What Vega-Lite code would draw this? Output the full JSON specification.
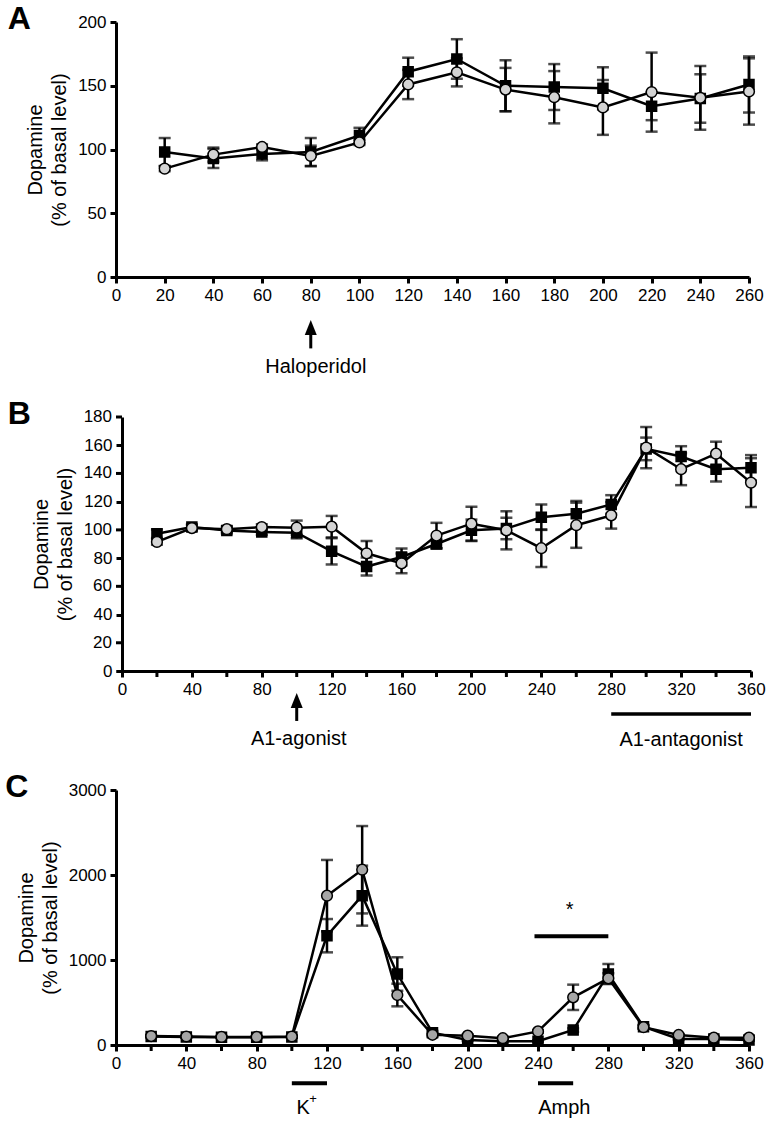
{
  "$schema": "https://vega.github.io/schema/vega-lite/v6.json",
  "background": "white",
  "padding": {"left": 5, "top": 3, "right": 5, "bottom": 5},
  "spacing": 20,
  "resolve": {"scale": {"x": "independent", "y": "independent", "fill": "independent", "shape": "independent", "size": "independent"}},
  "datasets": {
    "panelA": [
      {"time": 20, "group": "Group 1", "mean": 98, "sem": 11},
      {"time": 40, "group": "Group 1", "mean": 93, "sem": 7.5},
      {"time": 60, "group": "Group 1", "mean": 96.5, "sem": 5},
      {"time": 80, "group": "Group 1", "mean": 98, "sem": 11},
      {"time": 100, "group": "Group 1", "mean": 111, "sem": 6},
      {"time": 120, "group": "Group 1", "mean": 161, "sem": 11},
      {"time": 140, "group": "Group 1", "mean": 171, "sem": 15.5},
      {"time": 160, "group": "Group 1", "mean": 150, "sem": 20},
      {"time": 180, "group": "Group 1", "mean": 149, "sem": 18},
      {"time": 200, "group": "Group 1", "mean": 148, "sem": 16.5},
      {"time": 220, "group": "Group 1", "mean": 134, "sem": 11},
      {"time": 240, "group": "Group 1", "mean": 140, "sem": 19},
      {"time": 260, "group": "Group 1", "mean": 151, "sem": 22},
      {"time": 20, "group": "Group 2", "mean": 85, "sem": 2},
      {"time": 40, "group": "Group 2", "mean": 96, "sem": 5.5},
      {"time": 60, "group": "Group 2", "mean": 102, "sem": 2},
      {"time": 80, "group": "Group 2", "mean": 95, "sem": 8},
      {"time": 100, "group": "Group 2", "mean": 105.5, "sem": 2},
      {"time": 120, "group": "Group 2", "mean": 151, "sem": 11.5},
      {"time": 140, "group": "Group 2", "mean": 160.5, "sem": 11},
      {"time": 160, "group": "Group 2", "mean": 147, "sem": 17},
      {"time": 180, "group": "Group 2", "mean": 141, "sem": 20.5},
      {"time": 200, "group": "Group 2", "mean": 133, "sem": 21.5},
      {"time": 220, "group": "Group 2", "mean": 145, "sem": 31},
      {"time": 240, "group": "Group 2", "mean": 140.5, "sem": 25},
      {"time": 260, "group": "Group 2", "mean": 145.5, "sem": 26}
    ],
    "panelB": [
      {"time": 20, "group": "Group 1", "mean": 97.3, "sem": 3},
      {"time": 40, "group": "Group 1", "mean": 102, "sem": 2},
      {"time": 60, "group": "Group 1", "mean": 99.5, "sem": 2},
      {"time": 80, "group": "Group 1", "mean": 98.5, "sem": 2},
      {"time": 100, "group": "Group 1", "mean": 98, "sem": 4},
      {"time": 120, "group": "Group 1", "mean": 84.8, "sem": 9.3},
      {"time": 140, "group": "Group 1", "mean": 74, "sem": 6.4},
      {"time": 160, "group": "Group 1", "mean": 80.8, "sem": 6},
      {"time": 180, "group": "Group 1", "mean": 90, "sem": 3},
      {"time": 200, "group": "Group 1", "mean": 99.7, "sem": 7.6},
      {"time": 220, "group": "Group 1", "mean": 101, "sem": 7.6},
      {"time": 240, "group": "Group 1", "mean": 109, "sem": 9},
      {"time": 260, "group": "Group 1", "mean": 111.5, "sem": 9},
      {"time": 280, "group": "Group 1", "mean": 118, "sem": 6.6},
      {"time": 300, "group": "Group 1", "mean": 157.4, "sem": 8},
      {"time": 320, "group": "Group 1", "mean": 152, "sem": 7.3},
      {"time": 340, "group": "Group 1", "mean": 143, "sem": 8.7},
      {"time": 360, "group": "Group 1", "mean": 144, "sem": 9},
      {"time": 20, "group": "Group 2", "mean": 91.5, "sem": 2},
      {"time": 40, "group": "Group 2", "mean": 101.3, "sem": 2},
      {"time": 60, "group": "Group 2", "mean": 100.5, "sem": 2},
      {"time": 80, "group": "Group 2", "mean": 102, "sem": 2},
      {"time": 100, "group": "Group 2", "mean": 101.6, "sem": 5},
      {"time": 120, "group": "Group 2", "mean": 102.3, "sem": 7.6},
      {"time": 140, "group": "Group 2", "mean": 83.4, "sem": 8.7},
      {"time": 160, "group": "Group 2", "mean": 76.3, "sem": 7},
      {"time": 180, "group": "Group 2", "mean": 96, "sem": 9},
      {"time": 200, "group": "Group 2", "mean": 104.4, "sem": 12},
      {"time": 220, "group": "Group 2", "mean": 99.7, "sem": 13.5},
      {"time": 240, "group": "Group 2", "mean": 87, "sem": 13.3},
      {"time": 260, "group": "Group 2", "mean": 103.3, "sem": 16},
      {"time": 280, "group": "Group 2", "mean": 110.3, "sem": 9.4},
      {"time": 300, "group": "Group 2", "mean": 158.3, "sem": 14.6},
      {"time": 320, "group": "Group 2", "mean": 143, "sem": 11.3},
      {"time": 340, "group": "Group 2", "mean": 154, "sem": 8.5},
      {"time": 360, "group": "Group 2", "mean": 133.5, "sem": 17.3}
    ],
    "panelC": [
      {"time": 20, "group": "Group 1", "mean": 100, "sem": 10},
      {"time": 40, "group": "Group 1", "mean": 95, "sem": 10},
      {"time": 60, "group": "Group 1", "mean": 90, "sem": 10},
      {"time": 80, "group": "Group 1", "mean": 90, "sem": 10},
      {"time": 100, "group": "Group 1", "mean": 95, "sem": 10},
      {"time": 120, "group": "Group 1", "mean": 1286, "sem": 196},
      {"time": 140, "group": "Group 1", "mean": 1757, "sem": 353},
      {"time": 160, "group": "Group 1", "mean": 835, "sem": 197},
      {"time": 180, "group": "Group 1", "mean": 145, "sem": 20},
      {"time": 200, "group": "Group 1", "mean": 60, "sem": 10},
      {"time": 220, "group": "Group 1", "mean": 45, "sem": 10},
      {"time": 240, "group": "Group 1", "mean": 45, "sem": 10},
      {"time": 260, "group": "Group 1", "mean": 176, "sem": 20},
      {"time": 280, "group": "Group 1", "mean": 835, "sem": 118},
      {"time": 300, "group": "Group 1", "mean": 216, "sem": 20},
      {"time": 320, "group": "Group 1", "mean": 70, "sem": 10},
      {"time": 340, "group": "Group 1", "mean": 70, "sem": 10},
      {"time": 360, "group": "Group 1", "mean": 60, "sem": 10},
      {"time": 20, "group": "Group 2", "mean": 105, "sem": 10},
      {"time": 40, "group": "Group 2", "mean": 100, "sem": 10},
      {"time": 60, "group": "Group 2", "mean": 95, "sem": 10},
      {"time": 80, "group": "Group 2", "mean": 95, "sem": 10},
      {"time": 100, "group": "Group 2", "mean": 100, "sem": 10},
      {"time": 120, "group": "Group 2", "mean": 1757, "sem": 420},
      {"time": 140, "group": "Group 2", "mean": 2062, "sem": 514},
      {"time": 160, "group": "Group 2", "mean": 588, "sem": 133},
      {"time": 180, "group": "Group 2", "mean": 120, "sem": 20},
      {"time": 200, "group": "Group 2", "mean": 110, "sem": 15},
      {"time": 220, "group": "Group 2", "mean": 80, "sem": 10},
      {"time": 240, "group": "Group 2", "mean": 160, "sem": 15},
      {"time": 260, "group": "Group 2", "mean": 561, "sem": 149},
      {"time": 280, "group": "Group 2", "mean": 784, "sem": 60},
      {"time": 300, "group": "Group 2", "mean": 210, "sem": 20},
      {"time": 320, "group": "Group 2", "mean": 118, "sem": 10},
      {"time": 340, "group": "Group 2", "mean": 86, "sem": 10},
      {"time": 360, "group": "Group 2", "mean": 86, "sem": 10}
    ],
    "minorTicks": [
      {"time": 20}, {"time": 60}, {"time": 100}, {"time": 140}, {"time": 180},
      {"time": 220}, {"time": 260}, {"time": 300}, {"time": 340}
    ],
    "yLabelsB": [{"value": 20}, {"value": 60}, {"value": 100}, {"value": 140}, {"value": 180}],
    "noteA": [{"time": 80, "label": "Haloperidol"}],
    "noteB": [{"time": 100, "label": "A1-agonist"}],
    "barB": [{"start": 280, "end": 360, "at": 320, "label": "A1-antagonist"}],
    "barC": [
      {"start": 100, "end": 120, "at": 106.4, "label": "K", "sup": "+"},
      {"start": 240, "end": 260, "at": 255, "label": "Amph", "sup": ""}
    ],
    "sigC": [{"start": 238, "end": 280, "at": 258, "label": "*"}]
  },
  "vconcat": [
    {
      "width": 633,
      "height": 255,
      "title": {"text": "A", "anchor": "start", "frame": "bounds", "fontSize": 32, "fontWeight": "bold", "font": "Liberation Sans", "color": "black", "baseline": "alphabetic", "offset": -48, "dx": -18},
      "layer": [
        {
          "data": {"name": "panelA"},
          "mark": {"type": "line", "color": "black", "strokeWidth": 2.5},
          "encoding": {
            "x": {"field": "time", "type": "quantitative", "title": null, "scale": {"domain": [0, 260], "nice": false}, "axis": {"values": [0, 20, 40, 60, 80, 100, 120, 140, 160, 180, 200, 220, 240, 260], "labelOverlap": false, "labelFlush": false}},
            "y": {"field": "mean", "type": "quantitative", "title": ["Dopamine", "(% of basal level)"], "scale": {"domain": [0, 200], "nice": false}, "axis": {"values": [0, 50, 100, 150, 200], "labelOverlap": false}},
            "detail": {"field": "group"}
          }
        },
        {
          "data": {"name": "panelA"},
          "mark": {"type": "errorbar", "ticks": {"size": 12, "thickness": 2.5, "color": "black"}, "rule": {"strokeWidth": 2.5, "color": "black"}},
          "encoding": {
            "x": {"field": "time", "type": "quantitative", "title": null},
            "y": {"field": "mean", "type": "quantitative", "title": ["Dopamine", "(% of basal level)"]},
            "yError": {"field": "sem"},
            "detail": {"field": "group"}
          }
        },
        {
          "data": {"name": "panelA"},
          "mark": {"type": "point", "filled": true, "stroke": "black", "strokeWidth": 1.5, "opacity": 1},
          "encoding": {
            "x": {"field": "time", "type": "quantitative", "title": null},
            "y": {"field": "mean", "type": "quantitative", "title": ["Dopamine", "(% of basal level)"]},
            "shape": {"field": "group", "scale": {"domain": ["Group 1", "Group 2"], "range": ["square", "circle"]}, "legend": null},
            "fill": {"field": "group", "scale": {"domain": ["Group 1", "Group 2"], "range": ["black", "#d4d4d4"]}, "legend": null},
            "size": {"field": "group", "scale": {"domain": ["Group 1", "Group 2"], "range": [100, 115]}, "legend": null}
          }
        },
        {
          "data": {"name": "noteA"},
          "mark": {"type": "rule", "color": "black", "strokeWidth": 3},
          "encoding": {"x": {"field": "time", "type": "quantitative", "title": null}, "y": {"datum": -56}, "y2": {"datum": -44}}
        },
        {
          "data": {"name": "noteA"},
          "mark": {"type": "point", "shape": "M0,-1L0.8,1L-0.8,1Z", "filled": true, "color": "black", "opacity": 1, "size": 225},
          "encoding": {"x": {"field": "time", "type": "quantitative", "title": null}, "y": {"datum": -39.6}}
        },
        {
          "data": {"name": "noteA"},
          "mark": {"type": "text", "font": "Liberation Sans", "fontSize": 20, "color": "black", "baseline": "middle", "dx": 5},
          "encoding": {"x": {"field": "time", "type": "quantitative", "title": null}, "y": {"datum": -70.6}, "text": {"field": "label"}}
        }
      ]
    },
    {
      "width": 635,
      "height": 254,
      "title": {"text": "B", "anchor": "start", "frame": "bounds", "fontSize": 32, "fontWeight": "bold", "font": "Liberation Sans", "color": "black", "baseline": "alphabetic", "offset": -48, "dx": -24},
      "layer": [
        {
          "data": {"name": "panelB"},
          "mark": {"type": "line", "color": "black", "strokeWidth": 2.5},
          "encoding": {
            "x": {"field": "time", "type": "quantitative", "title": null, "scale": {"domain": [-3.43, 360], "nice": false}, "axis": {"values": [0, 40, 80, 120, 160, 200, 240, 280, 320, 360], "labelOverlap": false, "labelFlush": false}},
            "y": {"field": "mean", "type": "quantitative", "title": ["Dopamine", "(% of basal level)"], "scale": {"domain": [0, 180], "nice": false}, "axis": {"values": [0, 20, 40, 60, 80, 100, 120, 140, 160, 180], "labelOverlap": false, "offset": -6}},
            "detail": {"field": "group"}
          }
        },
        {
          "data": {"name": "minorTicks"},
          "mark": {"type": "rule", "color": "black", "strokeWidth": 3},
          "encoding": {"x": {"field": "time", "type": "quantitative", "title": null}, "y": {"datum": 0}, "y2": {"datum": -4.25}}
        },
        {
          "data": {"name": "yLabelsB"},
          "mark": {"type": "rule", "color": "black", "strokeWidth": 3},
          "encoding": {"x": {"datum": -3.43}, "x2": {"datum": 0}, "y": {"field": "value", "type": "quantitative", "title": ["Dopamine", "(% of basal level)"]}}
        },
        {
          "data": {"name": "yLabelsB"},
          "mark": {"type": "text", "align": "right", "baseline": "middle", "font": "Liberation Sans", "fontSize": 17, "color": "black", "dx": -4},
          "encoding": {"x": {"datum": -3.43}, "y": {"field": "value", "type": "quantitative", "title": ["Dopamine", "(% of basal level)"]}, "text": {"field": "value", "type": "quantitative"}}
        },
        {
          "data": {"name": "panelB"},
          "mark": {"type": "errorbar", "ticks": {"size": 12, "thickness": 2.5, "color": "black"}, "rule": {"strokeWidth": 2.5, "color": "black"}},
          "encoding": {
            "x": {"field": "time", "type": "quantitative", "title": null},
            "y": {"field": "mean", "type": "quantitative", "title": ["Dopamine", "(% of basal level)"]},
            "yError": {"field": "sem"},
            "detail": {"field": "group"}
          }
        },
        {
          "data": {"name": "panelB"},
          "mark": {"type": "point", "filled": true, "stroke": "black", "strokeWidth": 1.5, "opacity": 1},
          "encoding": {
            "x": {"field": "time", "type": "quantitative", "title": null},
            "y": {"field": "mean", "type": "quantitative", "title": ["Dopamine", "(% of basal level)"]},
            "shape": {"field": "group", "scale": {"domain": ["Group 1", "Group 2"], "range": ["square", "circle"]}, "legend": null},
            "fill": {"field": "group", "scale": {"domain": ["Group 1", "Group 2"], "range": ["black", "#d4d4d4"]}, "legend": null},
            "size": {"field": "group", "scale": {"domain": ["Group 1", "Group 2"], "range": [100, 115]}, "legend": null}
          }
        },
        {
          "data": {"name": "noteB"},
          "mark": {"type": "rule", "color": "black", "strokeWidth": 3},
          "encoding": {"x": {"field": "time", "type": "quantitative", "title": null}, "y": {"datum": -35.4}, "y2": {"datum": -25}}
        },
        {
          "data": {"name": "noteB"},
          "mark": {"type": "point", "shape": "M0,-1L0.8,1L-0.8,1Z", "filled": true, "color": "black", "opacity": 1, "size": 225},
          "encoding": {"x": {"field": "time", "type": "quantitative", "title": null}, "y": {"datum": -20.9}}
        },
        {
          "data": {"name": "noteB"},
          "mark": {"type": "text", "font": "Liberation Sans", "fontSize": 20, "color": "black", "baseline": "middle", "dx": 2},
          "encoding": {"x": {"field": "time", "type": "quantitative", "title": null}, "y": {"datum": -48.2}, "text": {"field": "label"}}
        },
        {
          "data": {"name": "barB"},
          "mark": {"type": "rule", "color": "black", "strokeWidth": 3.5},
          "encoding": {"x": {"field": "start", "type": "quantitative", "title": null}, "x2": {"field": "end"}, "y": {"datum": -30.5}}
        },
        {
          "data": {"name": "barB"},
          "mark": {"type": "text", "font": "Liberation Sans", "fontSize": 20, "color": "black", "baseline": "middle"},
          "encoding": {"x": {"field": "at", "type": "quantitative", "title": null}, "y": {"datum": -49.1}, "text": {"field": "label"}}
        }
      ]
    },
    {
      "width": 633,
      "height": 255,
      "title": {"text": "C", "anchor": "start", "frame": "bounds", "fontSize": 32, "fontWeight": "bold", "font": "Liberation Sans", "color": "black", "baseline": "alphabetic", "offset": -48, "dx": -11},
      "layer": [
        {
          "data": {"name": "panelC"},
          "mark": {"type": "line", "color": "black", "strokeWidth": 2.5},
          "encoding": {
            "x": {"field": "time", "type": "quantitative", "title": null, "scale": {"domain": [0, 360], "nice": false}, "axis": {"values": [0, 40, 80, 120, 160, 200, 240, 280, 320, 360], "labelOverlap": false, "labelFlush": false}},
            "y": {"field": "mean", "type": "quantitative", "title": ["Dopamine", "(% of basal level)"], "scale": {"domain": [0, 3000], "nice": false}, "axis": {"values": [0, 1000, 2000, 3000], "format": "d", "labelOverlap": false}},
            "detail": {"field": "group"}
          }
        },
        {
          "data": {"name": "minorTicks"},
          "mark": {"type": "rule", "color": "black", "strokeWidth": 3},
          "encoding": {"x": {"field": "time", "type": "quantitative", "title": null}, "y": {"datum": 0}, "y2": {"datum": -70.6}}
        },
        {
          "data": {"name": "panelC"},
          "mark": {"type": "errorbar", "ticks": {"size": 12, "thickness": 2.5, "color": "black"}, "rule": {"strokeWidth": 2.5, "color": "black"}},
          "encoding": {
            "x": {"field": "time", "type": "quantitative", "title": null},
            "y": {"field": "mean", "type": "quantitative", "title": ["Dopamine", "(% of basal level)"]},
            "yError": {"field": "sem"},
            "detail": {"field": "group"}
          }
        },
        {
          "data": {"name": "panelC"},
          "mark": {"type": "point", "filled": true, "stroke": "black", "strokeWidth": 1.5, "opacity": 1},
          "encoding": {
            "x": {"field": "time", "type": "quantitative", "title": null},
            "y": {"field": "mean", "type": "quantitative", "title": ["Dopamine", "(% of basal level)"]},
            "shape": {"field": "group", "scale": {"domain": ["Group 1", "Group 2"], "range": ["square", "circle"]}, "legend": null},
            "fill": {"field": "group", "scale": {"domain": ["Group 1", "Group 2"], "range": ["black", "#a6a6a6"]}, "legend": null},
            "size": {"field": "group", "scale": {"domain": ["Group 1", "Group 2"], "range": [100, 115]}, "legend": null}
          }
        },
        {
          "data": {"name": "barC"},
          "mark": {"type": "rule", "color": "black", "strokeWidth": 4},
          "encoding": {"x": {"field": "start", "type": "quantitative", "title": null}, "x2": {"field": "end"}, "y": {"datum": -451}}
        },
        {
          "data": {"name": "barC"},
          "mark": {"type": "text", "font": "Liberation Sans", "fontSize": 20, "color": "black", "baseline": "middle"},
          "encoding": {"x": {"field": "at", "type": "quantitative", "title": null}, "y": {"datum": -741}, "text": {"field": "label"}}
        },
        {
          "data": {"name": "barC"},
          "mark": {"type": "text", "font": "Liberation Sans", "fontSize": 13, "color": "black", "baseline": "middle", "dx": 10, "dy": -9},
          "encoding": {"x": {"field": "at", "type": "quantitative", "title": null}, "y": {"datum": -741}, "text": {"field": "sup"}}
        },
        {
          "data": {"name": "sigC"},
          "mark": {"type": "rule", "color": "black", "strokeWidth": 4},
          "encoding": {"x": {"field": "start", "type": "quantitative", "title": null}, "x2": {"field": "end"}, "y": {"datum": 1279}}
        },
        {
          "data": {"name": "sigC"},
          "mark": {"type": "text", "font": "Liberation Sans", "fontSize": 20, "color": "black", "baseline": "middle"},
          "encoding": {"x": {"field": "at", "type": "quantitative", "title": null}, "y": {"datum": 1593}, "text": {"field": "label"}}
        }
      ]
    }
  ],
  "config": {
    "font": "Liberation Sans",
    "view": {"stroke": null},
    "axis": {
      "grid": false,
      "domainColor": "black",
      "domainWidth": 3,
      "tickColor": "black",
      "tickWidth": 3,
      "tickSize": 6,
      "labelColor": "black",
      "labelFont": "Liberation Sans",
      "labelFontSize": 17,
      "labelPadding": 4,
      "titleFont": "Liberation Sans",
      "titleFontSize": 20,
      "titleFontWeight": "normal",
      "titleColor": "black",
      "titleLineHeight": 24,
      "titlePadding": 8
    }
  }
}
